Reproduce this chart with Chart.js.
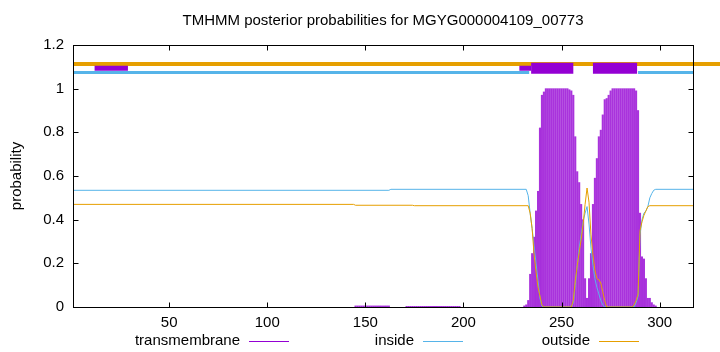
<!DOCTYPE html>
<html>
<head>
<meta charset="utf-8">
<title>TMHMM posterior probabilities for MGYG000004109_00773</title>
<script src="https://cdn.jsdelivr.net/npm/chart.js@4.4.1/dist/chart.umd.min.js"></script>
<style>
  html, body { margin: 0; padding: 0; background: #fff; }
</style>
</head>
<body>
<canvas id="tmhmm" width="720" height="352"></canvas>
<script>
(function () {
    "use strict";

    // Data
    var seqLength = 317;
    var xTicks = [50, 100, 150, 200, 250, 300];
    var yTicks = [0, 0.2, 0.4, 0.6, 0.8, 1, 1.2];
    var seriesNames = ['transmembrane', 'inside', 'outside'];

    // transmembrane posterior, residue -> probability (zero elsewhere)
    var tmResidue = [
        145, 146, 147, 148, 149, 150, 151, 152, 153, 154, 155, 156, 157, 158, 159, 160, 161, 162,
        171, 172, 173, 174, 175, 176, 177, 178, 179, 180, 181, 182, 183, 184, 185, 186, 187, 188,
        189, 190, 191, 192, 193, 194, 195, 196, 197, 198,
        231, 232, 233, 234, 235, 236, 237, 238, 239, 240, 241, 242, 243, 244, 245, 246, 247, 248,
        249, 250, 251, 252, 253, 254, 255, 256, 257, 258, 259, 260, 261, 262, 263, 264, 265, 266,
        267, 268, 269, 270, 271, 272, 273, 274, 275, 276, 277, 278, 279, 280, 281, 282, 283, 284,
        285, 286, 287, 288, 289, 290, 291, 292, 293, 294, 295, 296, 297, 298
    ];
    var tmProb = [
        0.005, 0.005, 0.005, 0.005, 0.005, 0.005, 0.005, 0.005, 0.005, 0.005, 0.005, 0.005, 0.005, 0.005, 0.005, 0.005, 0.005, 0.005,
        0.003, 0.003, 0.003, 0.003, 0.003, 0.003, 0.003, 0.003, 0.003, 0.003, 0.003, 0.003, 0.003, 0.003, 0.003, 0.003, 0.003, 0.003,
        0.003, 0.003, 0.003, 0.003, 0.003, 0.003, 0.003, 0.003, 0.003, 0.003,
        0.005, 0.01, 0.03, 0.15, 0.245, 0.32, 0.44, 0.53, 0.82, 0.97, 0.985, 1, 1, 1, 1, 1, 1, 1,
        1, 1, 1, 1, 1, 0.995, 0.99, 0.97, 0.78, 0.62, 0.57, 0.47, 0.40, 0.13, 0.04, 0.13, 0.245, 0.47,
        0.59, 0.68, 0.78, 0.81, 0.88, 0.95, 0.955, 0.97, 0.99, 1, 1, 1, 1, 1, 1, 1, 1, 1,
        1, 1, 1, 0.99, 0.90, 0.43, 0.23, 0.22, 0.13, 0.04, 0.04, 0.02, 0.01, 0.005
    ];

    // inside / outside posterior curves, [residue, probability]
    var insideCurve = [
        [1, 0.5345], [162, 0.5345], [163, 0.539], [232, 0.539], [233, 0.51], [234, 0.43],
        [235, 0.36], [236, 0.28], [237, 0.20], [238, 0.12], [239, 0.04], [240, 0.005], [241, 0],
        [255, 0], [256, 0.02], [257, 0.10], [258, 0.19], [259, 0.27], [260, 0.33], [261, 0.39],
        [262, 0.43], [263, 0.46], [264, 0.38], [265, 0.27], [266, 0.19], [267, 0.13], [268, 0.09],
        [269, 0.06], [270, 0.03], [271, 0.01], [272, 0], [287, 0], [288, 0.02], [289, 0.05],
        [290, 0.33], [291, 0.40], [292, 0.43], [293, 0.44], [294, 0.46], [295, 0.50], [296, 0.52],
        [297, 0.535], [298, 0.539], [317, 0.539]
    ];
    var outsideCurve = [
        [1, 0.470], [144, 0.470], [145, 0.466], [174, 0.466], [175, 0.464], [233, 0.464],
        [234, 0.43], [235, 0.36], [236, 0.24], [237, 0.16], [238, 0.09], [239, 0.05], [240, 0.01],
        [241, 0], [255, 0], [256, 0.03], [257, 0.12], [258, 0.19], [259, 0.25], [260, 0.31],
        [261, 0.38], [262, 0.47], [263, 0.545], [264, 0.48], [265, 0.33], [266, 0.24], [267, 0.17],
        [268, 0.13], [269, 0.125], [270, 0.11], [271, 0.07], [272, 0.03], [273, 0], [286, 0],
        [287, 0.01], [288, 0.03], [289, 0.06], [290, 0.35], [291, 0.39], [292, 0.42], [293, 0.44],
        [294, 0.46], [295, 0.464], [317, 0.464]
    ];

    // predicted topology track at the top, [from, to] residue spans
    var topOutside = [[1, 331]];
    var topInside = [[1, 233.5], [289, 317]];
    var topTmThin = [[12, 29], [228.5, 234.5]];
    var topTmThick = [[234.5, 256], [266, 288.5]];

    var TM_COLOR = '#9400d3';
    var IN_COLOR = '#56b4e9';
    var OUT_COLOR = '#e69f00';
    var FONT = "'Liberation Sans', Arial, sans-serif";

    function spanPoints(spans, level) {
        var pts = [];
        spans.forEach(function (s, i) {
            if (i > 0) pts.push({ x: s[0], y: null });
            pts.push({ x: s[0], y: level });
            pts.push({ x: s[1], y: level });
        });
        return pts;
    }

    function curvePoints(curve) {
        return curve.map(function (p) { return { x: p[0], y: p[1] }; });
    }

    // gnuplot-like frame, inward ticks, title and key
    var gnuplotLook = {
        id: 'gnuplotLook',
        afterDraw: function (chart) {
            var ctx = chart.ctx;
            var a = chart.chartArea;
            var xs = chart.scales.x, ys = chart.scales.y;
            var L = Math.round(a.left) + 0.5, R = Math.round(a.right) + 0.5;
            var T = Math.round(a.top) + 0.5, B = Math.round(a.bottom) + 0.5;
            ctx.save();
            ctx.strokeStyle = '#000';
            ctx.lineWidth = 1;
            ctx.strokeRect(L, T, R - L, B - T);

            ctx.beginPath();
            xTicks.forEach(function (v) {
                var px = Math.round(xs.getPixelForValue(v)) + 0.5;
                ctx.moveTo(px, B); ctx.lineTo(px, B - 5);
                ctx.moveTo(px, T); ctx.lineTo(px, T + 5);
            });
            yTicks.forEach(function (v) {
                var py = Math.round(ys.getPixelForValue(v)) + 0.5;
                ctx.moveTo(L, py); ctx.lineTo(L + 5, py);
                ctx.moveTo(R, py); ctx.lineTo(R - 5, py);
            });
            ctx.stroke();

            ctx.fillStyle = '#000';
            ctx.font = '15px ' + FONT;
            ctx.textAlign = 'center';
            ctx.textBaseline = 'middle';
            ctx.fillText('TMHMM posterior probabilities for MGYG000004109_00773', (a.left + a.right) / 2, 21);

            ctx.save();
            ctx.translate(17, (a.top + a.bottom) / 2);
            ctx.rotate(-Math.PI / 2);
            ctx.fillText('probability', 0, 0);
            ctx.restore();

            // key: text right-justified, then sample line
            var keyY = 341;
            var keyEnds = [240, 414, 590];
            var colors = [TM_COLOR, IN_COLOR, OUT_COLOR];
            ctx.textAlign = 'right';
            seriesNames.forEach(function (name, i) {
                ctx.fillStyle = '#000';
                ctx.fillText(name, keyEnds[i], keyY);
                ctx.strokeStyle = colors[i];
                ctx.beginPath();
                ctx.moveTo(keyEnds[i] + 9, keyY + 0.5);
                ctx.lineTo(keyEnds[i] + 49, keyY + 0.5);
                ctx.stroke();
            });
            ctx.restore();
        }
    };

    var ctx = document.getElementById('tmhmm').getContext('2d');
    new Chart(ctx, {
        type: 'line',
        data: {
            datasets: [
                {
                    type: 'bar',
                    label: seriesNames[0],
                    data: tmResidue.map(function (r, i) { return { x: r, y: tmProb[i] }; }),
                    backgroundColor: 'rgba(148, 0, 211, 0.8)',
                    barThickness: 1.4,
                    grouped: false,
                    order: 10
                },
                {
                    label: seriesNames[1],
                    data: curvePoints(insideCurve),
                    borderColor: IN_COLOR,
                    borderWidth: 1,
                    pointRadius: 0,
                    order: 9
                },
                {
                    label: seriesNames[2],
                    data: curvePoints(outsideCurve),
                    borderColor: OUT_COLOR,
                    borderWidth: 1,
                    pointRadius: 0,
                    order: 8
                },
                {
                    data: spanPoints(topInside, 1.074),
                    borderColor: IN_COLOR,
                    borderWidth: 3,
                    borderCapStyle: 'butt',
                    pointRadius: 0,
                    spanGaps: false,
                    order: 3
                },
                {
                    data: spanPoints(topOutside, 1.113),
                    borderColor: OUT_COLOR,
                    borderWidth: 4,
                    borderCapStyle: 'butt',
                    pointRadius: 0,
                    clip: false,
                    order: 2
                },
                {
                    data: spanPoints(topTmThin, 1.093),
                    borderColor: TM_COLOR,
                    borderWidth: 5,
                    borderCapStyle: 'butt',
                    pointRadius: 0,
                    spanGaps: false,
                    order: 1
                },
                {
                    data: spanPoints(topTmThick, 1.093),
                    borderColor: TM_COLOR,
                    borderWidth: 11,
                    borderCapStyle: 'butt',
                    pointRadius: 0,
                    spanGaps: false,
                    order: 0
                }
            ]
        },
        options: {
            responsive: false,
            animation: false,
            events: [],
            layout: { padding: { left: 0, right: 27, top: 45, bottom: 0 } },
            plugins: {
                legend: { display: false },
                title: { display: false },
                tooltip: { enabled: false }
            },
            scales: {
                x: {
                    type: 'linear',
                    min: 1,
                    max: seqLength,
                    offset: false,
                    grid: { display: false, drawTicks: false, offset: false },
                    border: { display: false },
                    ticks: {
                        color: '#000',
                        font: { family: FONT, size: 15 },
                        padding: 7,
                        maxRotation: 0,
                        autoSkip: false
                    },
                    afterBuildTicks: function (s) {
                        s.ticks = xTicks.map(function (v) { return { value: v }; });
                    },
                    afterFit: function (s) { s.height = 45; }
                },
                y: {
                    min: 0,
                    max: 1.2,
                    grid: { display: false, drawTicks: false },
                    border: { display: false },
                    ticks: {
                        color: '#000',
                        font: { family: FONT, size: 15 },
                        padding: 9,
                        callback: function (v) { return String(Math.round(v * 10) / 10); }
                    },
                    afterBuildTicks: function (s) {
                        s.ticks = yTicks.map(function (v) { return { value: v }; });
                    },
                    afterFit: function (s) { s.width = 73; }
                }
            }
        },
        plugins: [gnuplotLook]
    });
})();
</script>
</body>
</html>
